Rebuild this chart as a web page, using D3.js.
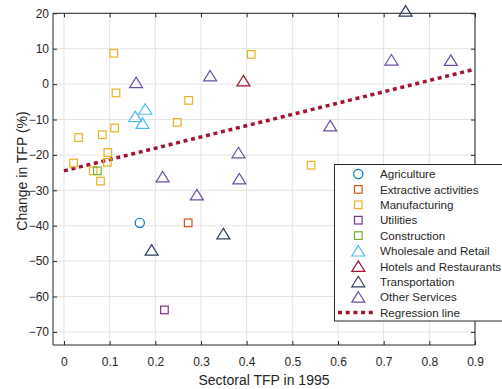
<!DOCTYPE html>
<html>
<head>
<meta charset="utf-8">
<script src="https://cdn.jsdelivr.net/npm/d3@7/dist/d3.min.js"></script>
<style>
  html, body { margin: 0; padding: 0; background: #fff; }
  svg { display: block; font-family: "Liberation Sans", Arial, Helvetica, sans-serif; }
</style>
</head>
<body>
<svg id="chart" width="502" height="389"></svg>
<script>
// Sectoral TFP level in 1995 (x) vs. change in TFP in percent (y), one array per sector
const agriculture = [[0.166, -39.2]];
const extractive = [[0.272, -39.2]];
const manufacturing = [
  [0.109, 8.7], [0.114, -2.5], [0.111, -12.4], [0.032, -15.1], [0.084, -14.3],
  [0.096, -19.3], [0.095, -22.1], [0.021, -22.3], [0.064, -24.5], [0.080, -27.4],
  [0.273, -4.6], [0.248, -10.8], [0.410, 8.4], [0.541, -22.9]
];
const utilities = [[0.220, -63.8]];
const construction = [[0.073, -24.5]];
const wholesale = [[0.156, -9.2], [0.178, -7.1], [0.172, -11.1]];
const hotels = [[0.393, 0.9]];
const transportation = [[0.748, 20.6], [0.192, -46.9], [0.349, -42.3]];
const otherServices = [
  [0.158, 0.4], [0.320, 2.3], [0.216, -26.2], [0.291, -31.3], [0.382, -19.4],
  [0.384, -26.8], [0.717, 6.8], [0.847, 6.7], [0.583, -11.8]
];

// Fitted regression line: y = intercept + slope * x, drawn over [0, 0.9]
const regIntercept = -24.5;
const regSlope = 31.9;
const regRange = [0, 0.9];

const xTicks = [0, 0.1, 0.2, 0.3, 0.4, 0.5, 0.6, 0.7, 0.8, 0.9];
const yTicks = [20, 10, 0, -10, -20, -30, -40, -50, -60, -70];

const series = [
  { name: "Agriculture", data: agriculture, shape: "circle", color: "#0072BD" },
  { name: "Extractive activities", data: extractive, shape: "square", color: "#D95319" },
  { name: "Manufacturing", data: manufacturing, shape: "square", color: "#EDB120" },
  { name: "Utilities", data: utilities, shape: "square", color: "#7E2F8E" },
  { name: "Construction", data: construction, shape: "square", color: "#77AC30" },
  { name: "Wholesale and Retail", data: wholesale, shape: "triangle", color: "#4DBEEE" },
  { name: "Hotels and Restaurants", data: hotels, shape: "triangle", color: "#A2142F" },
  { name: "Transportation", data: transportation, shape: "triangle", color: "#2B3F5F" },
  { name: "Other Services", data: otherServices, shape: "triangle", color: "#6A4FA3" }
];
const regColor = "#A2142F";

const svg = d3.select("#chart");
const plot = { left: 53, right: 475, top: 13.3, bottom: 345 };

const x = d3.scaleLinear().domain([-0.024, 0.9]).range([plot.left, plot.right]);
const y = d3.scaleLinear().domain([-73.7, 20]).range([plot.bottom, plot.top]);

const axisColor = "#262626";
const gridColor = "#e3e3e3";

// grid
const grid = svg.append("g");
grid.selectAll("line.gx").data(xTicks).join("line")
  .attr("x1", d => x(d)).attr("x2", d => x(d))
  .attr("y1", plot.top).attr("y2", plot.bottom)
  .attr("stroke", gridColor).attr("stroke-width", 1);
grid.selectAll("line.gy").data(yTicks).join("line")
  .attr("x1", plot.left).attr("x2", plot.right)
  .attr("y1", d => y(d)).attr("y2", d => y(d))
  .attr("stroke", gridColor).attr("stroke-width", 1);

// axes with inward ticks (box on all four sides)
const tickLen = 4;
const bottomAxis = d3.axisBottom(x).tickValues(xTicks).tickSize(-tickLen).tickPadding(12)
  .tickFormat(d => d === 0 ? "0" : d3.format(".1f")(d));
const topAxis = d3.axisTop(x).tickValues(xTicks).tickSize(-tickLen).tickFormat("");
const leftAxis = d3.axisLeft(y).tickValues(yTicks).tickSize(-tickLen).tickPadding(4)
  .tickFormat(d => d3.format("d")(d));
const rightAxis = d3.axisRight(y).tickValues(yTicks).tickSize(-tickLen).tickFormat("");

function styleAxis(g) {
  g.select(".domain").attr("stroke", axisColor).attr("stroke-width", 1);
  g.selectAll(".tick line").attr("stroke", axisColor);
  g.selectAll(".tick text").attr("fill", axisColor)
    .attr("font-size", 12)
    .attr("font-family", "Liberation Sans, Arial, sans-serif");
}

svg.append("g").attr("transform", `translate(0,${plot.bottom})`).call(bottomAxis).call(styleAxis)
  .select(".domain").attr("d", `M${plot.left},0H${plot.right}`);
svg.append("g").attr("transform", `translate(0,${plot.top})`).call(topAxis).call(styleAxis)
  .select(".domain").attr("d", `M${plot.left},0H${plot.right}`);
svg.append("g").attr("transform", `translate(${plot.left},0)`).call(leftAxis).call(styleAxis)
  .select(".domain").attr("d", `M0,${plot.top}V${plot.bottom}`);
svg.append("g").attr("transform", `translate(${plot.right},0)`).call(rightAxis).call(styleAxis)
  .select(".domain").attr("d", `M0,${plot.top}V${plot.bottom}`);

// axis labels
svg.append("text")
  .attr("x", (plot.left + plot.right) / 2).attr("y", 385)
  .attr("text-anchor", "middle").attr("font-size", 14).attr("fill", axisColor)
  .text("Sectoral TFP in 1995");
svg.append("text")
  .attr("transform", "translate(27,171) rotate(-90)")
  .attr("text-anchor", "middle").attr("font-size", 14).attr("fill", axisColor)
  .text("Change in TFP (%)");

// marker drawing
function drawMarker(g, shape, color) {
  if (shape === "circle") {
    g.append("circle").attr("r", 4.6).attr("fill", "none")
      .attr("stroke", color).attr("stroke-width", 1.2);
  } else if (shape === "square") {
    g.append("rect").attr("x", -3.8).attr("y", -3.8).attr("width", 7.6).attr("height", 7.6)
      .attr("fill", "none").attr("stroke", color).attr("stroke-width", 1.2);
  } else {
    g.append("path").attr("d", "M0,-5.5L6.5,5L-6.5,5Z").attr("fill", "none")
      .attr("stroke", color).attr("stroke-width", 1.2).attr("stroke-linejoin", "miter");
  }
}

// regression line (drawn under markers)
svg.append("line")
  .attr("x1", x(regRange[0])).attr("y1", y(regIntercept + regSlope * regRange[0]))
  .attr("x2", x(regRange[1])).attr("y2", y(regIntercept + regSlope * regRange[1]))
  .attr("stroke", regColor).attr("stroke-width", 3.5)
  .attr("stroke-dasharray", "4,3.7");

// points
const pts = svg.append("g");
series.forEach(s => {
  s.data.forEach(d => {
    const g = pts.append("g").attr("transform", `translate(${x(d[0])},${y(d[1])})`);
    drawMarker(g, s.shape, s.color);
  });
});

// legend
const lg = svg.append("g");
const lgBox = { x: 334.5, y: 164.5, w: 180, h: 156.5 };
lg.append("rect").attr("x", lgBox.x).attr("y", lgBox.y)
  .attr("width", lgBox.w).attr("height", lgBox.h)
  .attr("fill", "#fff").attr("stroke", axisColor).attr("stroke-width", 1);
const rowH = 15.4;
const row0 = 174;
series.forEach((s, i) => {
  const yy = row0 + i * rowH;
  const g = lg.append("g").attr("transform", `translate(358.3,${yy})`);
  drawMarker(g, s.shape, s.color);
  lg.append("text").attr("x", 380).attr("y", yy + 4.2)
    .attr("font-size", 11.6).attr("fill", axisColor).text(s.name);
});
const regY = row0 + series.length * rowH;
lg.append("line").attr("x1", 338).attr("x2", 373).attr("y1", regY).attr("y2", regY)
  .attr("stroke", regColor).attr("stroke-width", 3.5).attr("stroke-dasharray", "4,3.7");
lg.append("text").attr("x", 380).attr("y", regY + 4.2)
  .attr("font-size", 11.6).attr("fill", axisColor).text("Regression line");
</script>
</body>
</html>
